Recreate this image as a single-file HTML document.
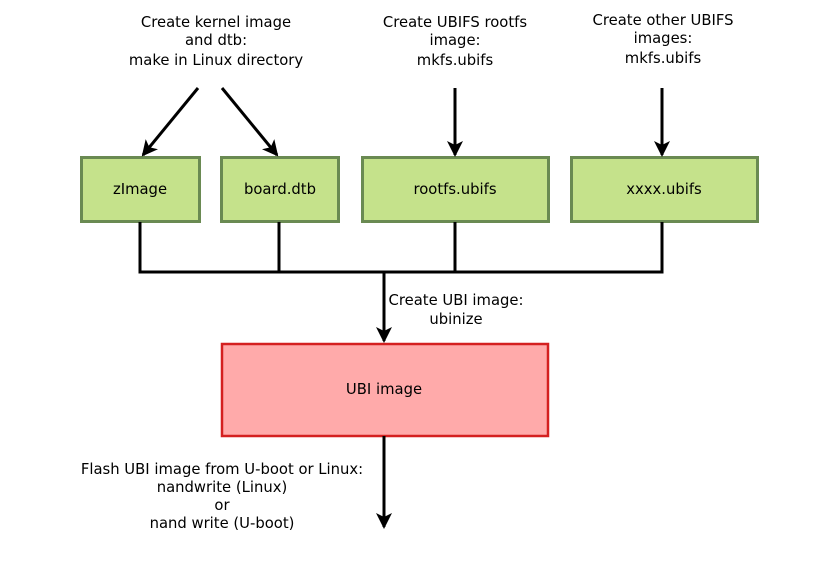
<!DOCTYPE html><html><head><style>body{margin:0;background:#fff}svg text{font-family:"DejaVu Sans",sans-serif;font-size:14.8px;fill:#000}</style></head><body>
<svg width="820" height="569" viewBox="0 0 820 569" xmlns="http://www.w3.org/2000/svg">
<defs><marker id="a" markerWidth="16" markerHeight="16" refX="14" refY="8" orient="auto" markerUnits="userSpaceOnUse"><path d="M0,0 L16,8 L0,16 L4,8 Z" fill="#000"/></marker></defs>
<g fill="#c5e28b" stroke="#6a8a52" stroke-width="3">
<rect x="81.5" y="157.5" width="118" height="64"/>
<rect x="221.5" y="157.5" width="117" height="64"/>
<rect x="362.5" y="157.5" width="186" height="64"/>
<rect x="571.5" y="157.5" width="186" height="64"/>
</g>
<rect x="222" y="344" width="326" height="92" fill="#ffaaaa" stroke="#d42020" stroke-width="2.5"/>
<g stroke="#000" stroke-width="3" fill="none">
<line x1="198" y1="88" x2="143" y2="155" marker-end="url(#a)"/>
<line x1="222" y1="88" x2="277" y2="155" marker-end="url(#a)"/>
<line x1="455" y1="88" x2="455" y2="155" marker-end="url(#a)"/>
<line x1="662" y1="88" x2="662" y2="155" marker-end="url(#a)"/>
<polyline points="140,222 140,272 662,272 662,222"/>
<line x1="279" y1="222" x2="279" y2="272"/>
<line x1="455" y1="222" x2="455" y2="272"/>
<line x1="384" y1="272" x2="384" y2="341" marker-end="url(#a)"/>
<line x1="384" y1="436" x2="384" y2="527" marker-end="url(#a)"/>
</g>
<g text-anchor="middle">
<text x="140" y="194">zImage</text>
<text x="280" y="194">board.dtb</text>
<text x="455" y="194">rootfs.ubifs</text>
<text x="664" y="194">xxxx.ubifs</text>
<text x="384" y="394">UBI image</text>
<text x="216" y="27">Create kernel image</text>
<text x="216" y="45">and dtb:</text>
<text x="216" y="65">make in Linux directory</text>
<text x="455" y="27">Create UBIFS rootfs</text>
<text x="455" y="45">image:</text>
<text x="455" y="65">mkfs.ubifs</text>
<text x="663" y="25">Create other UBIFS</text>
<text x="663" y="43">images:</text>
<text x="663" y="63">mkfs.ubifs</text>
<text x="456" y="305">Create UBI image:</text>
<text x="456" y="324">ubinize</text>
<text x="222" y="474">Flash UBI image from U-boot or Linux:</text>
<text x="222" y="492">nandwrite (Linux)</text>
<text x="222" y="510">or</text>
<text x="222" y="528">nand write (U-boot)</text>
</g>
</svg></body></html>
